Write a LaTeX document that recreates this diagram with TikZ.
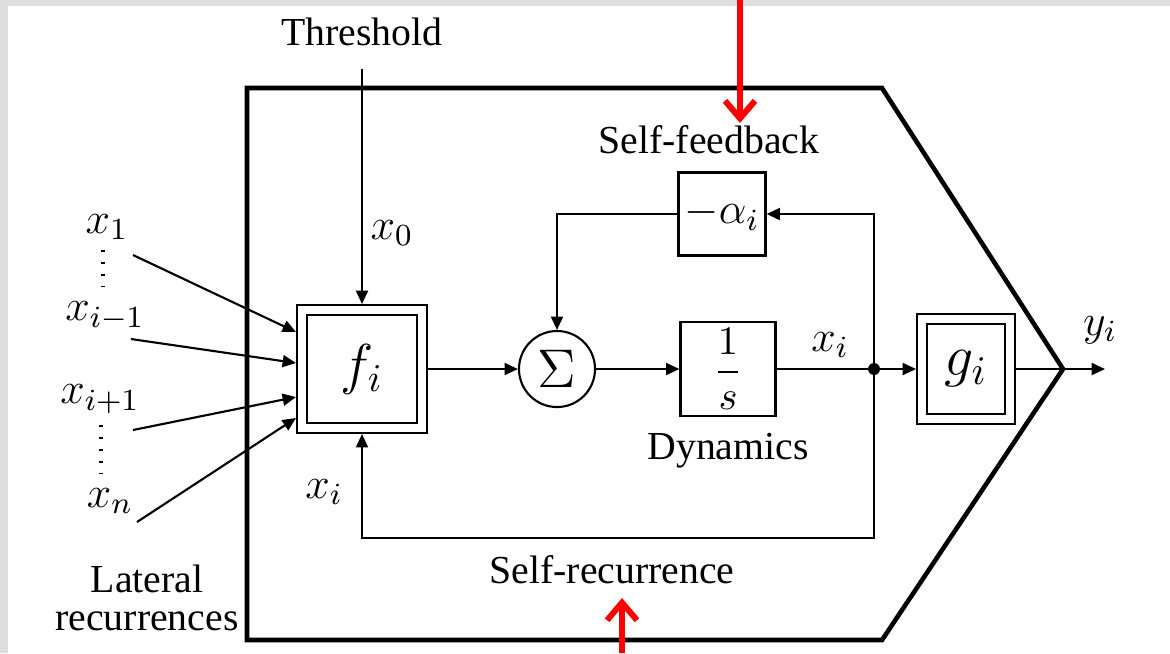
\RequirePackage{fix-cm}
\documentclass[tikz,border=0pt]{standalone}
\usepackage[no-math]{fontspec}
\setmainfont{Liberation Serif}
\usepackage{amsmath}
\usetikzlibrary{arrows.meta, positioning, calc}
\newcommand{\txtsize}{\fontsize{11.3}{10.8}\selectfont}
\newcommand{\mathsize}{\fontsize{12.5}{15}\selectfont}

\begin{document}
\begin{tikzpicture}[x=0.01cm, y=-0.01cm,
  every node/.style={font=\txtsize},
  lbl/.style={font=\mathsize, inner sep=1pt},
  block/.style={draw, line width=0.6pt, inner sep=0pt},
  dblock/.style={draw, line width=0.6pt, double, double distance=2.2pt,
    outer sep=1.7pt, inner sep=0pt, minimum width=1.2cm, minimum height=1.18cm},
  sig/.style={line width=0.6pt, -{Triangle[length=3.8pt,width=3.4pt]}},
  wire/.style={line width=0.6pt},
  frame/.style={line width=1.3pt, line join=miter},
  dotline/.style={line width=0.9pt, dash pattern=on 0.7pt off 2.7pt},
  marker/.style={red, line width=1.7pt, -{Straight Barb[length=5pt,width=8.5pt]}}]
  % page with its grey rim
  \fill[black!13] (0,0) rectangle (1170,653);
  \fill[white] (8,6) rectangle (1170,653);
  \useasboundingbox (0,0) rectangle (1170,653);

  % neuron outline
  \coordinate (tip) at (1063,369);
  \draw[frame] (247,88) -- (882,88) -- (tip) -- (882,640) -- (247,640) -- cycle;

  % blocks
  \node[dblock, font=\fontsize{16}{18}\selectfont] (f) at (362,369) {$f_i$};
  \node[block, circle, minimum size=0.76cm, font=\fontsize{15.5}{18}\selectfont] (sum) at (557,369) {$\Sigma$};
  \node[block, minimum width=0.95cm, minimum height=0.94cm, font=\fontsize{11.5}{14}\selectfont] (dyn) at (728,369) {$\dfrac{1}{s}$};
  \node[dblock, minimum width=0.88cm, minimum height=1.0cm, font=\fontsize{16.5}{18}\selectfont] (g) at (966,369) {$g_i$};
  \node[block, minimum width=0.87cm, minimum height=0.83cm, font=\mathsize] (alpha) at (722,214) {$-\alpha_i$};
  \node[circle, fill, inner sep=0pt, minimum size=3.4pt] (junc) at (874,369) {};
  \coordinate (rec) at (874,538);
  \coordinate (yout) at (1105,369);

  % texts
  \node (thr) at (362,32) {Threshold};
  \node (fbtxt) at (709,140) {Self-feedback};
  \node[below=1pt of dyn] (dyntxt) {Dynamics};
  \node (rectxt) at (612,570) {Self-recurrence};
  \node[align=center] (lattxt) at (147,598) {Lateral\\recurrences};

  % signal names
  \node[lbl] (x1) at (107,227) {$x_1$};
  \node[lbl] (xim) at (105,316) {$x_{i-1}$};
  \node[lbl] (xip) at (100,399) {$x_{i+1}$};
  \node[lbl] (xn) at (110,501) {$x_n$};
  \node[lbl] (x0) at (392,233) {$x_0$};
  \node[lbl] (xiback) at (324,492) {$x_i$};
  \node[lbl] (xiout) at (830,345) {$x_i$};
  \node[lbl] (yi) at (1100,330) {$y_i$};

  % lateral inputs
  \draw[dotline] (103,250) -- (103,286);
  \draw[dotline] (101,425) -- (101,473);
  \coordinate (in1) at (133,255);
  \coordinate (in2) at (131,339);
  \coordinate (in3) at (133,430);
  \coordinate (in4) at (137,522);
  \draw[sig] (in1) -- ($(f.west)+(0,-37)$);
  \draw[sig] (in2) -- ($(f.west)+(0,-6)$);
  \draw[sig] (in3) -- ($(f.west)+(0,28)$);
  \draw[sig] (in4) -- ($(f.west)+(0,49)$);
  \draw[sig, shorten <=3pt] (thr.south) -- (thr.south |- f.north);

  % forward path
  \draw[sig] (f) -- (sum);
  \draw[sig] (sum) -- (dyn);
  \draw[wire] (dyn) -- (junc.center);
  \draw[sig] (junc.center) -- (g);
  \draw[wire] (g) -- (tip);
  \draw[sig] (tip) -- (yout);

  % loops back
  \draw[sig] (junc.center) |- (alpha);
  \draw[sig] (alpha) -| (sum);
  \draw[sig] (junc.center) -- (rec) -| (f);

  % red pointers
  \coordinate (p1) at (740,0);
  \coordinate (p1e) at (740,123);
  \coordinate (p2) at (622,653);
  \coordinate (p2e) at (622,598);
  \draw[marker] (p1) -- (p1e);
  \draw[marker] (p2) -- (p2e);
\end{tikzpicture}
\end{document}
